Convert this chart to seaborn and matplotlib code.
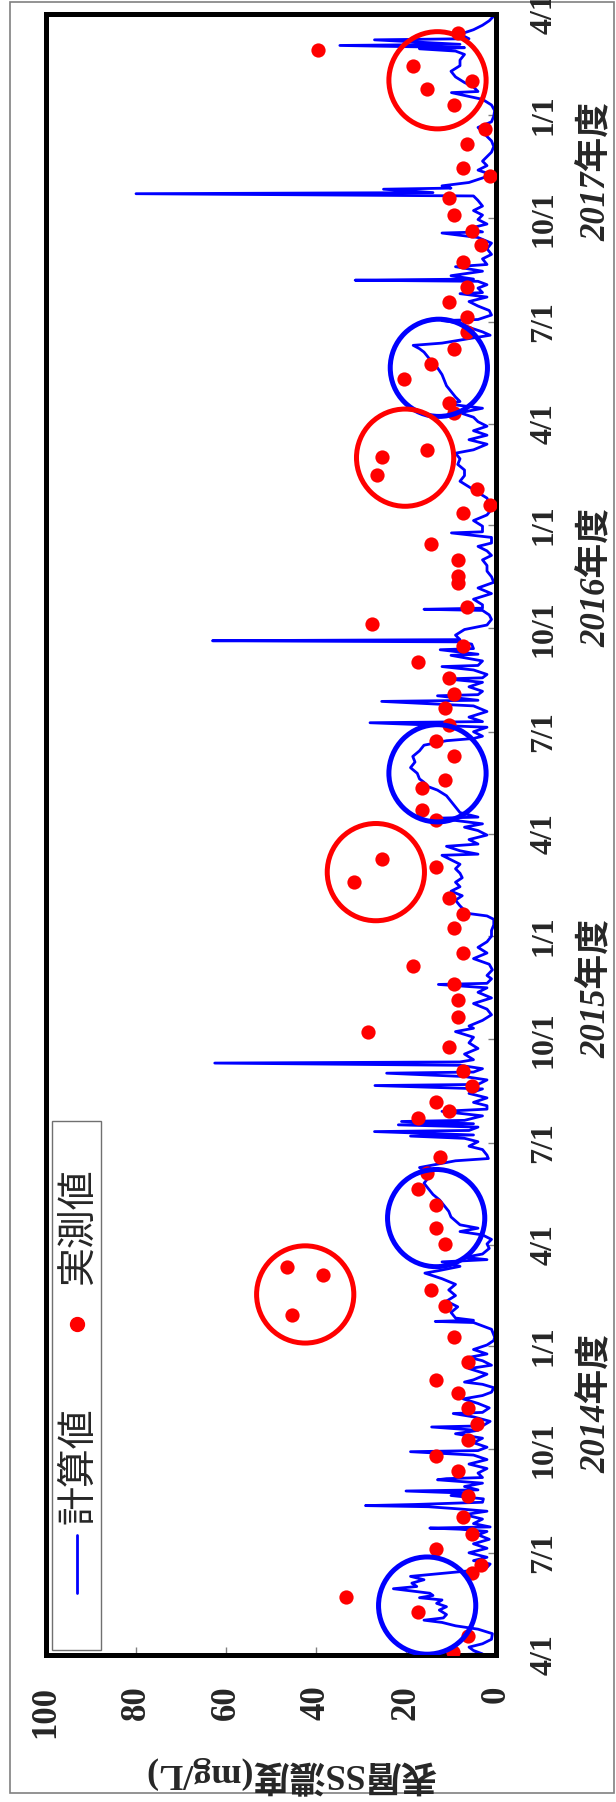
import numpy as np
import pandas as pd
import matplotlib
matplotlib.use("Agg")
import matplotlib.pyplot as plt
from matplotlib.patches import Rectangle
from matplotlib.lines import Line2D
import seaborn as sns

# ---------------------------------------------------------------------------
# Data: days elapsed since 2014-04-01 and surface SS concentration (mg/L)
# ---------------------------------------------------------------------------
START = pd.Timestamp("2014-04-01")

calc_day = [
    0, 1, 4, 7, 10, 14, 19, 23, 26, 29, 31, 33, 36, 40, 43, 46, 49, 51, 53, 55, 57, 59, 61, 64, 67, 70,
    73, 75, 78, 81, 84, 87, 91, 95, 99, 103, 107, 110, 112, 113, 114, 117, 121, 125, 128, 130, 132, 133,
    134, 136, 139, 142, 144, 146, 147, 150, 153, 156, 157, 158, 162, 166, 170, 174, 178, 181, 182, 185,
    189, 193, 197, 200, 203, 204, 208, 212, 215, 216, 220, 224, 228, 231, 234, 238, 241, 243,
    245, 250, 255, 258, 262, 265, 268, 272, 276, 280, 283, 290, 296, 297, 298, 300, 305, 310, 315, 320,
    325, 330, 335, 340, 342, 346, 350, 352, 354, 357, 362, 366, 370, 374, 377, 380, 383, 390, 395, 400,
    405, 410, 415, 420, 425, 430, 434, 437, 440, 442, 445, 450, 453, 457, 460, 462, 463, 466, 467, 470,
    472, 473, 475, 476, 480, 484, 486, 489,
    492, 496, 500, 504, 507, 508, 512, 515, 518, 519, 522, 525, 527, 528, 530, 535, 540, 545, 550, 555,
    558, 560, 565, 570, 575, 580, 585, 590, 594, 597, 598, 602, 605, 610, 615, 620, 625, 630, 635, 640,
    645, 650, 655, 658, 660, 663, 667, 672, 676, 680, 684, 688, 692, 696, 700, 704, 708, 712, 713, 716,
    720, 722, 726, 730, 734,
    737, 740, 745, 746, 750, 755, 760, 765, 770, 773, 777, 780, 785, 790, 795, 800, 805, 810, 814, 816,
    818, 822, 826, 830, 831, 835, 840, 845, 849, 850, 854, 855, 858, 862, 866, 869, 870, 873, 877, 880,
    881, 885, 890, 891, 895, 896, 900, 902, 903, 904, 908, 913, 917, 922, 926, 930, 931, 932, 935, 940,
    945, 950, 955, 960, 965, 970, 975, 979,
    983, 987, 990, 995, 999, 1000, 1005, 1010, 1015, 1020, 1025, 1030, 1035, 1040, 1045, 1050, 1055,
    1060, 1065, 1070, 1073, 1078, 1082, 1086, 1090, 1094, 1098, 1102, 1106, 1110, 1114, 1116, 1120,
    1125, 1130, 1135, 1140, 1146, 1150, 1155, 1160, 1163, 1166, 1168, 1172, 1175, 1178, 1182, 1186,
    1188, 1189, 1193, 1197, 1201, 1205, 1209, 1212, 1213, 1217,
    1220, 1223, 1224, 1225, 1228, 1232, 1236, 1238, 1243, 1247, 1252, 1257, 1262, 1266, 1267, 1270,
    1274, 1278, 1282, 1286, 1290, 1295, 1299, 1301, 1302, 1305, 1306, 1308, 1311, 1315, 1318, 1322,
    1326, 1330, 1334, 1338, 1343, 1348, 1352, 1356, 1360, 1365, 1370, 1375, 1380, 1385, 1391, 1392,
    1396, 1400, 1405, 1410, 1415, 1420, 1425, 1428, 1430, 1431, 1433, 1434, 1438, 1439, 1443, 1447,
    1451, 1455, 1458, 1460,
]
calc_ss = [
    11, 3, 5, 6, 3, 1, 0.8, 4, 9, 12, 16, 11.7, 11, 12.6, 11, 13.2, 12, 17, 14, 14.7, 18.7, 22.8, 17.6, 18.7, 16, 19,
    11, 5.8, 2, 1.3, 5, 2, 6, 2, 5, 1.5, 4, 2, 8, 14.7, 1.3, 5, 3, 7, 2, 8, 15, 29,
    18, 3, 2.8, 10, 6, 20, 4, 7, 3, 13, 11, 3, 4, 2, 6, 2, 5, 19, 4, 2,
    5, 3, 9, 4, 14.3, 3, 1.3, 5, 9.5, 3, 1.5, 4, 7.3, 3, 1, 0.5, 3, 7,
    5, 2, 6, 1, 3, 6, 2, 5, 2, 0.5, 0.3, 1, 5, 13.5, 5, 9, 10, 8.5, 11, 9,
    10.5, 9, 12, 15.8, 13, 8, 12, 2, 7, 3, 1.5, 2, 1, 3, 8, 4, 8, 10, 10.5, 11.5,
    12.5, 14, 15, 16, 15, 15.5, 17, 13, 9, 1.7, 2, 3, 6, 4, 7, 19, 5, 27, 6, 4,
    21.7, 5, 21, 7, 3, 12, 2, 2,
    5, 2, 6, 3, 26.9, 4, 2, 7, 24.3, 5, 3, 8, 62.5, 8, 5, 7, 4, 6, 5, 9,
    5, 6, 3, 1, 2, 5, 1, 4, 2, 12.8, 2, 1, 2, 0.8, 1.5, 5, 2, 4, 2, 1,
    1, 0.5, 0.5, 2, 5.8, 7, 8, 9, 7.5, 10, 8, 9, 7.5, 8, 9, 8, 10, 12, 4, 8,
    11, 4, 6, 2, 4,
    7, 3, 13, 4, 8, 9, 10, 11, 13, 15, 16, 17, 17.5, 19, 18, 18.5, 17, 16, 11, 5,
    3, 5, 2, 28, 3, 6, 2, 5, 25.4, 4, 13, 4, 3, 6, 3, 11, 3, 2, 5, 12,
    4, 3, 10, 4, 12.4, 5, 5.4, 8, 63, 8, 9, 7, 2, 1, 1.5, 3, 16, 3, 3, 5,
    1, 4, 0.5, 1, 2, 2, 3, 1,
    2, 4, 1, 1, 9.9, 3, 3, 5, 2, 1, 1.5, 2, 4, 6, 8, 7, 7,
    8.5, 8, 9, 5, 2, 6, 2, 5, 2, 4, 5, 8, 3, 11, 8, 9,
    10, 11, 11.5, 12, 13, 14, 15, 16, 17, 18.4, 12, 6, 1.3, 3, 6, 8,
    12, 4, 1, 1.5, 4, 6, 2, 8, 3, 4,
    2, 4, 31.3, 5, 10, 3, 9, 2, 3, 1, 2, 1, 4, 12, 3, 6,
    2, 4, 3, 5, 3, 4, 5, 80, 14, 25, 10, 12, 6, 3, 1, 4,
    2, 3, 2, 1, 0.5, 1, 2, 3, 4, 1, 0.5, 0.3, 1, 3, 9.9, 4,
    5, 7, 9, 10, 8, 8, 7, 9, 17, 7, 34.7, 8, 27, 6, 8, 5,
    3, 1.5, 0.8, 0.3,
]

obs_day = [
    3, 17, 38, 52, 73, 80, 94, 108, 123, 142, 164, 177, 191, 206, 220, 233, 245, 261, 283, 303,
    311, 325, 338, 345, 366, 380, 401, 415, 429, 443, 478, 484, 492, 507, 520, 541, 555, 568, 583, 597,
    613, 625, 647, 660, 674, 688, 702, 709, 743, 752, 772, 779, 800, 814, 828, 843, 856, 870, 884, 898,
    918, 933, 954, 961, 975, 989, 1017, 1024, 1038, 1051, 1067, 1073, 1106, 1115, 1136, 1149, 1163,
    1178, 1191, 1205, 1218, 1240, 1255, 1268, 1282, 1297, 1317, 1324, 1345, 1359, 1380, 1394, 1401,
    1415, 1429, 1444,
]
obs_ss = [
    9.5, 6.3, 17.4, 33.4, 5.4, 3.4, 13.3, 5.4, 7.4, 6.3, 8.4, 13.3, 6.3, 4.3, 6.3, 8.4, 13.3, 6.3, 9.3, 45.4,
    11.3, 14.4, 38.4, 46.4, 11.3, 13.3, 13.3, 17.4, 15.4, 12.4, 17.4, 10.4, 13.3, 5.4, 7.4, 10.4, 28.4, 8.4, 8.4, 9.3,
    18.4, 7.4, 9.3, 7.4, 10.4, 31.5, 13.3, 25.4, 13.3, 16.4, 16.4, 11.3, 9.3, 13.3, 10.4, 11.3, 9.3, 10.4, 17.4, 7.4,
    27.5, 6.4, 8.4, 8.4, 8.4, 14.4, 7.4, 1.3, 4.3, 26.4, 25.3, 15.4, 9.3, 10.4, 20.4, 14.4, 9.3,
    6.4, 6.4, 10.4, 6.4, 7.4, 3.4, 5.4, 9.3, 10.4, 1.3, 7.4, 6.4, 2.4, 9.3, 15.4, 5.4,
    18.4, 39.5, 8.4,
]

# Highlighted groups (centre day, centre value)
blue_ring_day = [44, 389, 785, 1146]
blue_ring_ss = [15.3, 13.3, 13.0, 12.7]
red_ring_day = [321, 697, 1066, 1402]
red_ring_ss = [42.4, 26.7, 20.2, 13.0]

tick_dates = pd.date_range("2014-04-01", "2018-04-01", freq="3MS")
tick_labels = [f"{d.month}/{d.day}" for d in tick_dates]
year_labels = ["2014年度", "2015年度", "2016年度", "2017年度"]
year_label_dates = pd.to_datetime(["2014-11-11", "2015-11-15", "2016-11-15", "2017-11-12"])
value_ticks = [0, 20, 40, 60, 80, 100]


def to_date(days):
    return START + pd.to_timedelta(np.asarray(days, dtype=float), unit="D")


calc = pd.DataFrame({"date": to_date(calc_day), "ss": calc_ss})
obs = pd.DataFrame({"date": to_date(obs_day), "ss": obs_ss})
blue_rings = pd.DataFrame({"date": to_date(blue_ring_day), "ss": blue_ring_ss})
red_rings = pd.DataFrame({"date": to_date(red_ring_day), "ss": red_ring_ss})

# ---------------------------------------------------------------------------
# Figure
# ---------------------------------------------------------------------------
sns.set_theme(style="white")
plt.rcParams["font.family"] = ["Liberation Serif", "Noto Sans CJK JP"]

W, H = 616, 1802
fig = plt.figure(figsize=(W / 100, H / 100), dpi=100)
fig.patch.set_facecolor("white")


def fx(px):
    return px / W


def fy(py):
    return 1 - py / H


ax_l, ax_r, ax_t, ax_b = 46, 496, 14, 1655
ax = fig.add_axes([fx(ax_l), fy(ax_b), fx(ax_r - ax_l), (ax_b - ax_t) / H])
ax.set_facecolor("white")

sns.lineplot(data=calc, x="ss", y="date", orient="y", sort=False, estimator=None,
             color="#0000FF", lw=2.0, ax=ax, legend=False)
sns.scatterplot(data=obs, x="ss", y="date", color="#FF0000", s=105, linewidth=0,
                ax=ax, legend=False, zorder=4)
sns.scatterplot(data=blue_rings, x="ss", y="date", marker="o", s=4900,
                facecolors="none", edgecolor="#0000FF", linewidth=3.6, ax=ax,
                legend=False, zorder=5)
sns.scatterplot(data=red_rings, x="ss", y="date", marker="o", s=4900,
                facecolors="none", edgecolor="#FF0000", linewidth=3.6, ax=ax,
                legend=False, zorder=5)

ax.set_xlim(100, 0)
ax.set_ylim(pd.Timestamp("2014-04-01"), pd.Timestamp("2018-04-01"))

for s in ax.spines.values():
    s.set_color("black")
    s.set_linewidth(3.6)

# value axis (bottom)
ax.set_xticks(value_ticks)
ax.set_xticklabels([str(v) for v in value_ticks], rotation=90, fontsize=25,
                   fontweight="bold", family=["Liberation Serif"])
ax.tick_params(axis="x", direction="in", length=6, width=1, color="#808080",
               pad=22, bottom=True, top=False)

# date axis (right)
ax.yaxis.tick_right()
ax.set_yticks(tick_dates)
ax.set_yticklabels(tick_labels, rotation=90, fontsize=23, fontweight="bold",
                   va="center", family=["Liberation Serif"])
ax.tick_params(axis="y", direction="in", length=6, width=1, color="#808080",
               pad=24, right=True, left=False)

ax.set_xlabel("")
ax.set_ylabel("")

fig.text(fx(291), fy(1775), "表層SS濃度(mg/L)", rotation=180, ha="center", va="center",
         fontsize=26, fontweight="bold")

year_x = (597 - ax_l) / (ax_r - ax_l)
for lab, d in zip(year_labels, year_label_dates):
    ax.text(year_x, d, lab, transform=ax.get_yaxis_transform(),
            rotation=90, ha="center", va="center", fontsize=25, fontweight="bold",
            fontstyle="italic")

# legend box drawn in the plot's own frame
leg_x0, leg_x1, leg_y0, leg_y1 = 52, 101, 1121, 1650
fig.add_artist(Rectangle((fx(leg_x0), fy(leg_y1)), fx(leg_x1 - leg_x0), (leg_y1 - leg_y0) / H,
                         transform=fig.transFigure, facecolor="white", edgecolor="#707070",
                         linewidth=1.0, zorder=6))
fig.add_artist(Line2D([fx(77), fx(77)], [fy(1593), fy(1535)], transform=fig.transFigure,
                      color="#0000FF", lw=2.0, zorder=7))
fig.add_artist(Line2D([fx(77)], [fy(1324)], transform=fig.transFigure, marker="o",
                      markersize=10, color="#FF0000", lw=0, zorder=7))
fig.text(fx(78), fy(1466), "計算値", rotation=90, ha="center", va="center", fontsize=28,
         family=["Noto Sans CJK JP"], zorder=7)
fig.text(fx(78), fy(1227), "実測値", rotation=90, ha="center", va="center", fontsize=28,
         family=["Noto Sans CJK JP"], zorder=7)

# thin outer frame around the whole figure
fig.add_artist(Rectangle((fx(9.5), fy(1793)), fx(604), 1791 / H, transform=fig.transFigure,
                         facecolor="none", edgecolor="#808080", linewidth=1.2, zorder=0))

fig.savefig("out.png", dpi=100, facecolor="white")
